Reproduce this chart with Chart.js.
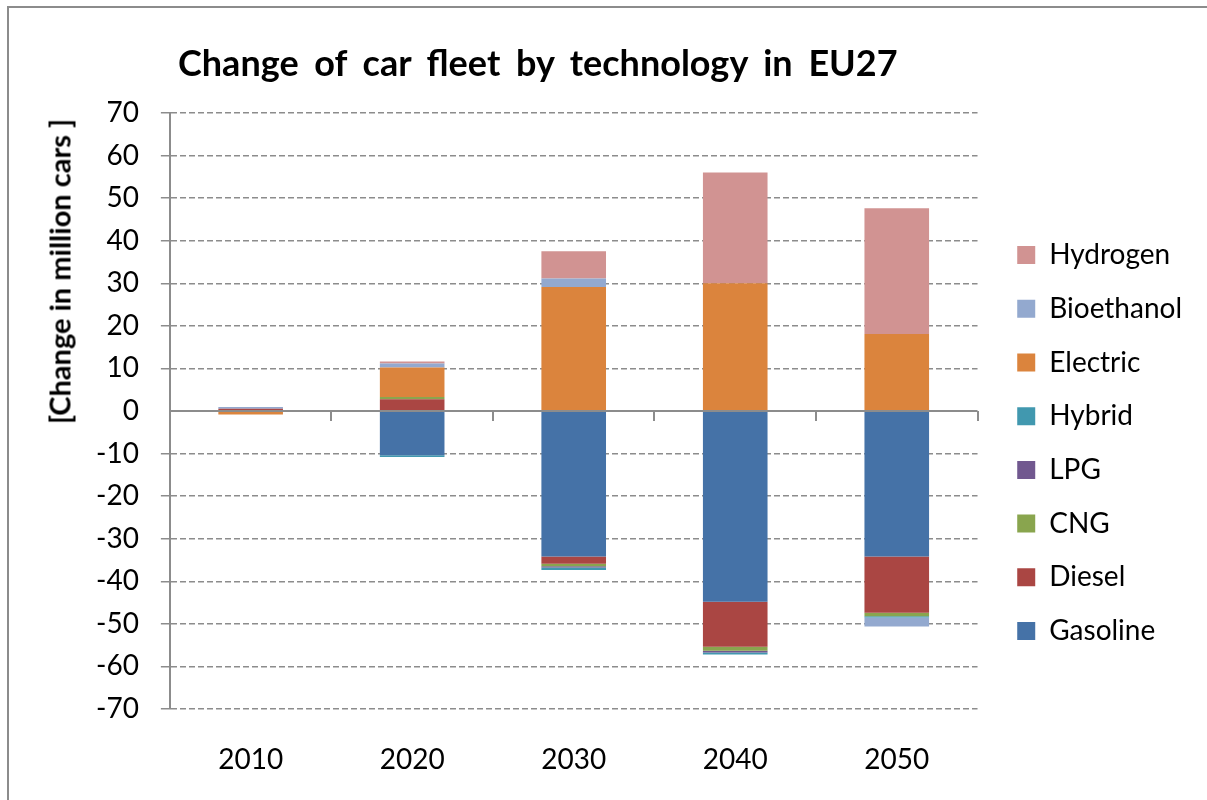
<!DOCTYPE html>
<html>
<head>
<meta charset="utf-8">
<script src="https://cdn.jsdelivr.net/npm/chart.js@4/dist/chart.umd.min.js"></script>
<style>
  html, body { margin: 0; padding: 0; background: #fff; overflow: hidden; }
  #wrap { position: relative; width: 1207px; height: 800px; }
  #frame {
    position: absolute; left: 7px; top: 6px; width: 1300px; height: 900px;
    border-left: 2px solid #8c8c8c; border-top: 2px solid #8c8c8c;
  }
  #title {
    position: absolute; left: 178px; top: 44px; white-space: nowrap;
    font: bold 36px/36px Lato, sans-serif; word-spacing: 7px; color: #000;
  }
  #ytitle {
    position: absolute; left: -141px; top: 257px; width: 400px; height: 29px;
    font: bold 29px/29px Lato, sans-serif; color: #000; text-align: center;
    white-space: nowrap; transform: rotate(-90deg);
  }
  canvas { position: absolute; left: 0; top: 0; }
</style>
</head>
<body>
<div id="wrap">
  <div id="frame"></div>
  <canvas id="fleet" width="1207" height="800"></canvas>
  <div id="title">Change of car fleet by technology in EU27</div>
  <div id="ytitle">[Change in million cars ]</div>
</div>
<script>
const years = ["2010", "2020", "2030", "2040", "2050"];

// million cars
const gasoline   = [0,     -10.4, -34.2, -44.8, -34.2];
const diesel     = [0.55,   2.75,  -1.7, -10.6, -13.2];
const cng        = [0,      0.55, -0.55,  -0.9,  -0.8];
const lpg        = [0,      0,     -0.3,  -0.4,   0];
const hybrid     = [0,     -0.4,   -0.6,  -0.5,  -0.3];
const electric   = [-0.8,   6.9,   29.1,  30.0,  18.1];
const bioethanol = [0.4,    0.95,   2.0,   0,    -2.1];
const hydrogen   = [0,      0.5,    6.4,  26.0,  29.5];

const yTicks = [-70, -60, -50, -40, -30, -20, -10, 0, 10, 20, 30, 40, 50, 60, 70];

const series = [
  ["Gasoline", gasoline, "#4572A7"],
  ["Diesel", diesel, "#AA4643"],
  ["CNG", cng, "#89A54E"],
  ["LPG", lpg, "#71588F"],
  ["Hybrid", hybrid, "#4198AF"],
  ["Electric", electric, "#DB843D"],
  ["Bioethanol", bioethanol, "#93A9CF"],
  ["Hydrogen", hydrogen, "#D19392"]
];

const FONT = "Lato, sans-serif";

// zero line and the little category ticks on it, drawn over the bars like Excel does
const zeroAxis = {
  id: "zeroAxis",
  afterDatasetsDraw(chart) {
    const { ctx, chartArea, scales } = chart;
    const x = scales.x;
    const y0 = scales.y.getPixelForValue(0);
    ctx.save();
    ctx.strokeStyle = "#8c8c8c";
    ctx.lineWidth = 2;
    ctx.beginPath();
    ctx.moveTo(chartArea.left, y0);
    ctx.lineTo(chartArea.right, y0);
    for (let i = 0; i <= years.length; i++) {
      const px = Math.round(x.getPixelForValue(i - 0.5));
      ctx.moveTo(px, y0);
      ctx.lineTo(px, y0 + 10);
    }
    ctx.stroke();
    ctx.restore();
  }
};

new Chart(document.getElementById("fleet"), {
  type: "bar",
  data: {
    labels: years,
    datasets: series.map(([label, data, color]) => ({
      label,
      data,
      backgroundColor: color,
      borderWidth: 0,
      categoryPercentage: 1,
      barPercentage: 0.4
    }))
  },
  options: {
    responsive: false,
    animation: false,
    layout: { padding: { left: 74, right: 15, top: 113, bottom: 23 } },
    plugins: {
      tooltip: { enabled: false },
      legend: {
        position: "right",
        reverse: true,
        align: "start",
        maxWidth: 300,
        title: { display: true, text: "", padding: { top: 88, bottom: 0 } },
        labels: {
          boxWidth: 18,
          boxHeight: 18,
          padding: 25.7,
          color: "#000",
          font: { family: FONT, size: 28 }
        }
      }
    },
    scales: {
      x: {
        stacked: true,
        grid: { display: false, drawTicks: false },
        border: { display: false },
        ticks: { color: "#000", padding: 34, font: { family: FONT, size: 28 } },
        afterFit: s => { s.height = 68; }
      },
      y: {
        stacked: true,
        min: -70,
        max: 70,
        afterBuildTicks: s => { s.ticks = yTicks.map(v => ({ value: v })); },
        grid: {
          color: "#8c8c8c",
          lineWidth: c => (c.tick && c.tick.value === 0 ? 0 : 1.5),
          tickLength: 9
        },
        border: {
          display: true,
          color: "#8c8c8c",
          width: 2,
          dash: c => (c.tick ? [6, 3] : [])
        },
        ticks: { color: "#000", padding: 22, font: { family: FONT, size: 28 } }
      },
      yR: {
        type: "linear",
        position: "right",
        grid: { display: false, drawTicks: false },
        border: { display: false },
        ticks: { display: false },
        afterFit: s => { s.width = 14; }
      }
    }
  },
  plugins: [zeroAxis]
});
</script>
</body>
</html>
